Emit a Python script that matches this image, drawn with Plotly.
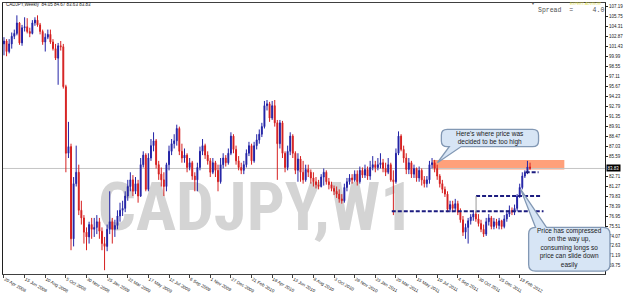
import pandas as pd
import plotly.graph_objects as go

# ---------------- data (CADJPY weekly) ----------------
first_open = 101.84
close = [102.26,100.74,101.84,102.94,103.36,104.87,101.98,104.18,104.32,103.63,
         103.36,104.87,105.28,104.59,103.63,102.12,102.81,103.22,102.12,101.16,
         99.78,101.57,101.43,95.66,86.03,86.99,73.66,81.63,83.28,77.78,
         76.68,74.62,73.93,75.72,75.03,75.31,76.13,74.76,72.97,72.56,
         75.03,76.13,75.03,75.58,76.96,77.78,78.06,79.84,81.22,82.18,
         80.53,81.63,79.84,84.38,85.76,80.81,85.34,87.13,87.82,84.38,
         83.01,82.18,81.22,84.38,86.31,87.41,87.82,89.61,86.31,85.34,
         85.76,83.97,84.66,82.73,82.18,83.97,86.31,87.13,85.76,84.93,
         83.28,84.66,83.56,81.91,84.38,85.34,84.66,86.03,88.51,86.58,
         84.93,83.97,83.56,84.38,86.03,87.13,84.93,87.13,87.96,88.78,
         89.88,92.91,93.18,91.12,92.91,90.43,87.41,90.43,86.03,83.97,
         86.31,88.51,86.03,83.56,85.21,83.28,82.18,83.69,83.28,82.46,
         81.91,81.49,81.22,82.59,83.28,81.91,81.49,80.94,80.53,80.12,
         79.43,79.16,81.08,81.91,82.46,82.18,83.01,81.91,83.56,82.87,
         83.69,82.73,83.97,84.38,83.97,84.38,84.66,83.83,83.28,84.38,
         82.18,81.91,86.03,88.51,86.58,85.34,83.69,84.66,83.01,83.83,
         82.46,83.56,82.18,81.63,82.18,84.38,84.66,83.83,82.73,81.63,
         80.81,80.12,77.92,78.61,78.06,78.74,77.51,76.41,74.62,75.31,
         76.27,76.82,77.23,76.54,75.86,75.03,74.34,76.13,76.68,75.44,
         76.13,75.58,76.27,75.44,76.54,77.23,77.78,77.51,78.06,79.84,
         81.08,82.73,83.28,84.05,83.83]
high = [102.81,102.53,102.53,103.49,103.91,105.97,105.01,104.59,105.69,105.56,
        104.18,105.28,105.69,105.97,104.87,103.91,103.36,103.91,103.91,102.53,
        101.84,101.98,102.26,101.84,95.93,90.57,87.41,82.59,87.13,84.38,
        79.16,77.09,75.31,76.13,76.68,76.68,77.09,76.68,75.31,73.93,
        75.72,80.53,76.68,76.41,77.78,78.88,79.16,80.53,82.18,83.28,
        82.87,82.59,82.18,85.34,86.31,86.03,86.03,88.09,89.06,88.09,
        84.93,83.97,83.28,84.66,87.13,88.09,88.78,90.16,89.88,87.41,
        86.72,86.03,85.34,84.93,83.28,84.66,86.99,88.09,87.41,86.31,
        85.34,85.34,84.93,84.38,85.34,86.03,85.76,86.72,89.06,88.78,
        87.13,85.62,84.66,84.93,86.58,87.68,87.41,87.68,88.78,89.47,
        90.43,93.59,93.73,93.46,93.59,93.73,90.84,90.84,90.71,86.31,
        87.13,89.06,88.78,86.31,86.03,85.62,84.93,84.38,84.38,83.69,
        83.28,82.59,82.18,83.01,83.83,83.56,82.46,81.91,81.36,81.22,
        80.81,80.12,81.63,82.46,83.01,83.01,83.56,83.56,84.11,83.97,
        84.38,84.11,84.93,85.62,84.93,85.34,86.03,85.21,84.66,85.34,
        84.66,83.56,86.72,89.19,88.78,87.13,86.03,85.34,84.93,84.38,
        83.97,84.11,83.83,82.73,82.73,84.93,85.34,85.07,84.38,83.01,
        82.18,81.22,80.53,79.16,79.16,79.43,79.16,78.06,76.96,75.86,
        76.68,77.23,77.78,77.64,77.23,76.41,75.72,76.68,77.23,76.96,
        76.68,76.54,76.68,76.41,77.09,77.78,78.47,78.19,78.61,80.12,
        81.63,83.28,83.56,84.93,84.67]
low = [100.19,100.06,100.47,101.16,102.53,103.08,101.71,101.57,103.63,103.36,
       102.81,103.22,104.46,104.32,103.22,101.71,100.74,102.53,101.84,100.88,
       99.51,95.93,100.88,95.38,83.28,85.34,72.01,72.56,81.22,77.09,
       75.72,72.97,72.01,72.97,73.66,73.93,74.34,73.66,72.01,69.12,
       71.87,74.34,72.97,73.93,75.03,76.13,76.96,77.51,79.16,80.53,
       79.84,80.12,78.88,79.71,83.97,80.53,80.53,84.93,86.31,83.83,
       82.18,81.22,79.84,80.53,83.56,85.76,86.72,87.13,85.76,84.66,
       84.66,83.28,83.56,82.18,80.53,80.53,83.56,85.76,85.21,84.38,
       82.59,83.01,82.59,80.53,81.63,83.83,84.11,84.38,85.76,86.03,
       84.38,83.56,83.01,83.01,83.97,85.62,84.38,84.66,86.58,87.41,
       88.37,89.61,92.22,90.57,90.84,89.88,82.18,86.72,85.34,83.28,
       83.56,85.76,85.34,83.01,81.91,81.91,81.63,81.91,82.59,81.63,
       81.22,80.94,80.81,81.08,81.36,81.49,80.81,80.53,79.98,79.57,
       78.88,78.74,78.88,80.53,81.49,81.63,81.91,81.36,81.63,82.46,
       82.46,82.18,82.18,83.56,83.28,83.56,83.83,83.28,82.73,83.01,
       81.91,77.09,81.63,85.76,86.31,84.66,83.01,83.01,82.46,82.46,
       81.91,81.91,81.36,81.08,81.08,81.63,83.83,83.28,82.18,81.08,
       80.26,79.71,77.51,77.51,77.51,77.64,77.09,75.99,74.07,73.66,
       72.97,75.72,76.27,76.13,75.44,74.62,73.93,74.07,75.58,75.03,
       75.03,75.17,75.03,75.03,75.17,76.13,76.82,77.09,77.09,77.64,
       79.57,80.81,82.46,83.01,83.63]
open_ = [first_open] + close[:-1]          # forex weekly open = previous close
first_week = "2008-04-20"
dates = pd.date_range(first_week, periods=len(close), freq="7D")

last_price = 83.83
support_level = 77.64
breakout_level = 79.84
retest_level = 83.28

x_tick_dates = ["2008-04-20","2008-06-15","2008-08-10","2008-10-05","2008-11-30",
                "2009-01-25","2009-03-22","2009-05-17","2009-07-12","2009-09-06",
                "2009-11-01","2009-12-27","2010-02-21","2010-04-18","2010-06-13",
                "2010-08-08","2010-10-03","2010-11-28","2011-01-23","2011-03-20",
                "2011-05-15","2011-07-10","2011-09-04","2011-10-30","2011-12-25",
                "2012-02-19"]
x_tick_text = ["20 Apr 2008","15 Jun 2008","10 Aug 2008","5 Oct 2008","30 Nov 2008",
               "25 Jan 2009","22 Mar 2009","17 May 2009","12 Jul 2009","6 Sep 2009",
               "1 Nov 2009","27 Dec 2009","21 Feb 2010","18 Apr 2010","13 Jun 2010",
               "8 Aug 2010","3 Oct 2010","28 Nov 2010","23 Jan 2011","20 Mar 2011",
               "15 May 2011","10 Jul 2011","4 Sep 2011","30 Oct 2011","25 Dec 2011",
               "19 Feb 2012"]
y_tick_vals = [107.19,105.75,104.31,102.87,101.43,99.99,98.55,97.11,95.67,94.23,
               92.79,91.35,89.91,88.47,87.03,85.59,82.71,81.27,79.83,
               78.39,76.95,75.51,74.07,72.63,71.19,69.75]
y_tick_text = ["%.2f" % v for v in y_tick_vals]

# ---------------- layout geometry ----------------
W, H = 625, 296
PL, PR, PT, PB = 3, 610, 2, 287
PX_PER_WEEK = 2.6
FIRST_X = 4
days_per_px = 7.0 / PX_PER_WEEK
x_start = dates[0] + pd.Timedelta(days=(PL - FIRST_X) * days_per_px)
x_end = dates[0] + pd.Timedelta(days=(PR - FIRST_X) * days_per_px)
y_range = [68.57, 107.755]

def PX(x):
    return (x - PL) / (PR - PL)

def PY(y):
    return (PB - y) / (PB - PT)

def pt(x, y):
    return "%.5f,%.5f" % (PX(x), PY(y))

def callout_path(x0, y0, x1, y1, r, side, tb0, tb1, tip):
    s = "M%s " % pt(x0 + r, y0)
    if side == "top":
        s += "L%s L%s L%s " % (pt(tb0, y0), pt(*tip), pt(tb1, y0))
    s += "L%s Q%s %s " % (pt(x1 - r, y0), pt(x1, y0), pt(x1, y0 + r))
    s += "L%s Q%s %s " % (pt(x1, y1 - r), pt(x1, y1), pt(x1 - r, y1))
    if side == "bottom":
        s += "L%s L%s L%s " % (pt(tb1, y1), pt(*tip), pt(tb0, y1))
    s += "L%s Q%s %s " % (pt(x0 + r, y1), pt(x0, y1), pt(x0, y1 - r))
    s += "L%s Q%s %s Z" % (pt(x0, y0 + r), pt(x0, y0), pt(x0 + r, y0))
    return s

SMALL = "Liberation Sans, Arial"

fig = go.Figure()
fig.add_trace(go.Candlestick(
    x=dates, open=open_, high=high, low=low, close=close,
    increasing=dict(line=dict(color="#2323a6", width=1), fillcolor="#1a1a9c"),
    decreasing=dict(line=dict(color="#d62020", width=1), fillcolor="#cc1414"),
    whiskerwidth=0, showlegend=False, hoverinfo="skip"))

shapes = []
# watermark (below the candles)
shapes.append(dict(type="rect", xref="paper", yref="paper",
                   x0=PX(90), x1=PX(426), y0=PY(252), y1=PY(170),
                   line=dict(width=0), fillcolor="rgba(0,0,0,0)", layer="below",
                   label=dict(text="CADJPY,W1", textposition="middle center",
                              font=dict(family="Roboto Condensed, Roboto, Liberation Sans",
                                        size=67, color="#d4d4d4", weight="bold"))))
# resistance zone
shapes.append(dict(type="rect", xref="paper", yref="paper",
                   x0=PX(436), x1=PX(569), y0=PY(177), y1=PY(167),
                   line=dict(width=0), fillcolor="#FFA07A", layer="below"))
# current price line
shapes.append(dict(type="line", xref="paper", yref="y", x0=0, x1=1,
                   y0=last_price, y1=last_price,
                   line=dict(color="#c4c4c4", width=1), layer="below"))
# dashed levels
for lvl, xa, xb in [(support_level, 395, 548), (breakout_level, 480, 545),
                    (retest_level, 530, 543)]:
    shapes.append(dict(type="line", xref="paper", yref="y", x0=PX(xa), x1=PX(xb),
                       y0=lvl, y1=lvl, line=dict(color="#1c1c80", width=2, dash="4px,2px")))
shapes.append(dict(type="line", xref="paper", yref="paper", x0=PX(480), x1=PX(480),
                   y0=PY(205), y1=PY(223), line=dict(color="#9a9a9a", width=1)))
# callouts
shapes.append(dict(type="path", xref="paper", yref="paper",
                   path=callout_path(445, 135, 543, 153, 6, "bottom", 453, 465, (441, 170)),
                   fillcolor="#d7e5f5", line=dict(color="#8298b4", width=1.3)))
shapes.append(dict(type="path", xref="paper", yref="paper",
                   path=callout_path(533, 238, 615, 284, 7, "top", 540, 551, (525, 198)),
                   fillcolor="#d7e5f5", line=dict(color="#8298b4", width=1.3)))

annotations = [
    dict(xref="paper", yref="paper", x=PX(494), y=PY(143.5), xanchor="center", yanchor="middle",
         text="Here's where price was<br>decided to be too high", showarrow=False,
         font=dict(family="Liberation Sans, Arial", size=6.5, color="#1a1a1a")),
    dict(xref="paper", yref="paper", x=PX(574), y=PY(260), xanchor="center", yanchor="middle",
         text="Price has compressed<br>on the way up,<br>consuming longs so<br>price can slide down<br>easily",
         showarrow=False, font=dict(family="Liberation Sans, Arial", size=6.5, color="#1a1a1a")),
    dict(xref="paper", yref="paper", x=PX(4), y=PY(4), xanchor="left", yanchor="middle",
         text="CADJPY,Weekly  84.05 84.67 83.63 83.83", showarrow=False,
         font=dict(family=SMALL, size=4.5, color="#202020")),
    dict(xref="paper", yref="paper", x=PX(540), y=PY(9.5), xanchor="left", yanchor="middle",
         text="Spread&nbsp;&nbsp;=&nbsp;&nbsp;&nbsp;&nbsp;&nbsp;4.0", showarrow=False,
         font=dict(family="Liberation Mono, DejaVu Sans Mono", size=6.5, color="#505050")),
    dict(xref="paper", yref="paper", x=PX(590), y=PY(3), xanchor="center", yanchor="middle",
         text="EXPERT-ADVISOR", showarrow=False,
         font=dict(family=SMALL, size=3.5, color="#e0e050")),
    dict(xref="paper", yref="paper", x=PX(537), y=PY(3), xanchor="center", yanchor="middle",
         text="▼", showarrow=False, font=dict(size=4, color="#606060")),
    dict(xref="paper", yref="y", x=1, y=last_price, xanchor="left", yanchor="middle",
         xshift=1, text="83.83", showarrow=False, bgcolor="#000000", borderpad=0.5,
         font=dict(family=SMALL, size=4.5, color="#ffffff")),
]

fig.update_layout(
    width=W, height=H, margin=dict(l=PL, r=W - PR, t=PT, b=H - PB),
    paper_bgcolor="white", plot_bgcolor="white", showlegend=False,
    boxgap=0.5, shapes=shapes, annotations=annotations,
    xaxis=dict(type="date", range=[x_start, x_end], rangeslider=dict(visible=False),
               tickvals=x_tick_dates, ticktext=x_tick_text,
               ticklabelposition="outside right", ticks="outside", ticklen=3,
               tickcolor="#404040", tickfont=dict(family=SMALL, size=4.5, color="#202020"),
               showline=True, linecolor="#404040", linewidth=1, mirror=True,
               showgrid=False, zeroline=False, fixedrange=True),
    yaxis=dict(side="right", range=y_range, tickvals=y_tick_vals, ticktext=y_tick_text,
               ticks="outside", ticklen=2, tickcolor="#202020",
               tickfont=dict(family=SMALL, size=4.5, color="#202020"),
               showline=True, linecolor="#202020", linewidth=1, mirror=True,
               showgrid=False, zeroline=False, fixedrange=True),
)

fig.write_html("out.html")
